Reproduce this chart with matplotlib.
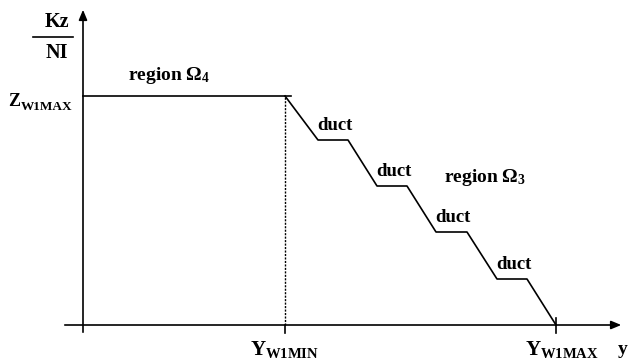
import matplotlib.pyplot as plt

plt.rcParams['font.family'] = 'Liberation Serif'
plt.rcParams['font.weight'] = 'bold'
plt.rcParams['mathtext.fontset'] = 'custom'
plt.rcParams['mathtext.rm'] = 'Liberation Serif:bold'
plt.rcParams['mathtext.it'] = 'Liberation Serif:bold'
plt.rcParams['mathtext.bf'] = 'Liberation Serif:bold'

# profile of Kz/NI across the winding (y), flat steps are the ducts
y_min = 202
y_max = 473
z_max = 229
y_profile = [202, 235, 265, 294, 324, 353, 384, 414, 444, 473]
z_profile = [229, 185, 185, 139, 139, 93, 93, 46, 46, 0]
duct_labels = ['duct', 'duct', 'duct', 'duct']

fig = plt.figure(figsize=(6.29, 3.64), dpi=100)
ax = fig.add_axes([0, 0, 1, 1])
ax.set_xlim(-83, 546)
ax.set_ylim(-39, 325)
ax.axis('off')

lw = 1.2
# axes with arrow heads
ax.annotate('', xy=(541, 0), xytext=(-21, 0),
            arrowprops=dict(arrowstyle='-|>,head_length=0.6,head_width=0.25', color='black', lw=lw))
ax.annotate('', xy=(0, 318), xytext=(0, -10),
            arrowprops=dict(arrowstyle='-|>,head_length=0.6,head_width=0.25', color='black', lw=lw))

# region 4: constant level up to y_min
ax.plot([0, y_min + 6], [z_max, z_max], color='black', lw=lw)
ax.plot([y_min, y_min], [0, z_max], color='black', lw=1.0, linestyle=(0, (1.5, 1)))
ax.plot([y_min, y_min], [-8, 0], color='black', lw=lw)
ax.plot([y_max, y_max], [-8, 7], color='black', lw=lw)

# region 3: stepped decrease through the ducts
ax.plot(y_profile, z_profile, color='black', lw=lw)

for i, lab in enumerate(duct_labels):
    x0 = y_profile[2 * i + 1]
    z0 = z_profile[2 * i + 1]
    ax.text(x0 + 17, z0 + 6, lab, ha='center', va='bottom', fontsize=13.5)

ax.text(86, 250, r'region $\mathrm{Ω}_4$', ha='center', va='center', fontsize=14)
ax.text(402, 147, r'region $\mathrm{Ω}_3$', ha='center', va='center', fontsize=14)

# axis labels
ax.text(-26, 303, 'Kz', ha='center', va='center', fontsize=14.5)
ax.text(-26, 272, 'NI', ha='center', va='center', fontsize=14.5)
ax.plot([-50, -10], [288, 288], color='black', lw=lw)
ax.text(-75, 224, 'Z', ha='left', va='center', fontsize=13)
ax.text(-62, 218, 'W1MAX', ha='left', va='center', fontsize=9.5)
ax.text(y_min, -25, r'$\mathrm{Y}_{\mathrm{W1MIN}}$', ha='center', va='center', fontsize=15)
ax.text(y_max + 6, -25, r'$\mathrm{Y}_{\mathrm{W1MAX}}$', ha='center', va='center', fontsize=15)
ax.text(535, -24, 'y', ha='left', va='center', fontsize=14)

fig.savefig('out.png', dpi=100)
